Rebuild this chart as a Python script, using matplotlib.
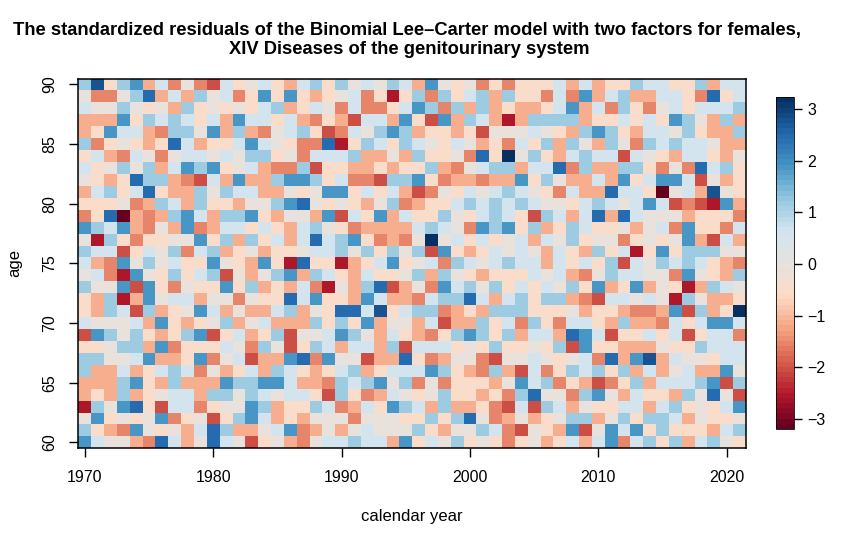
import numpy as np
import matplotlib
matplotlib.use("Agg")
import matplotlib.pyplot as plt
from matplotlib.colors import LinearSegmentedColormap

plt.rcParams['font.family'] = ['Liberation Sans', 'DejaVu Sans']

years = np.arange(1970, 2022)
ages = np.arange(60, 91)

# residual level of each cell
levels = {'D': -3.1, 'X': -2.5, 'R': -2.0, 'r': -1.55, 'p': -1.15, 'q': -0.55,
          'w': 0.0, 'c': 0.55, 'l': 1.15, 'b': 1.85, 'B': 2.5, 'K': 2.75, 'N': 3.15}

# one string per age, from 90 down to 60; letters run 1970..2021
rows = [
    "lKqlbpcrwrRcq wcqpclqlwcwlc pbwqwrqrqqqcp cpqqlccqqlpcc",  # 90
    "wrrwlBpcplwcr qbqbqpqwcrqXq lrlqclplqqrcr bpclppccqrBqc",
    "cwwlwqwplqwqw qclpqcwrcrrqc blrlplpqppqcb pcrlqrwcqcccl",
    "pppbqlclcqcpb ccqcprqpRccpb qRbplcpXpllll pqqcqcqblwplp",
    "pqbccprllwbpl prwclqRrcwlbl pqqpqRwwwcwqp lblqpccwlqppl",
    "lrqwqpqBcpqqc bcwqrrBXqlcql cwqcwpqrcqlpl wplwrlclccwpp",  # 85
    "qcprcwrwccwcw llqwrccclppwp lqqwrBqNwlqpc lccRcwqpccqpw",
    "cqwlwlpcblbqw cprrlRqqppqpq qlprwcllpccBr lppllqrwrBclq",
    "wqpqBllprRcpb pplbblqcrrRll bqrpprppbqlwp pcpbqcbbcRwpq",
    "pclqcBqpplwlc cppwqwbbqcqcp Rrwqcwclcwqrc ppBccqDwcpKwq",
    "qqqwrplcplqqp wwlbBwqwqpwlr pqqclclclcwwq clcwcbcRrRXbp",  # 80
    "rqBDprplbcpll bqpwwpbRcqbpc qqlwqclcqRlcp cBpBcwwwpqqqr",
    "blcbprwpbrpcc qcqpclwqrpppp clcwrblbqlpql cqqwpwcrbqqrc",
    "wXlqrqqwwbqlp lqcpcBclbqrpr wNwcqcqwcpcwl qwwrqwqwbpRcp",
    "lccRqcwlrclpq wpqqwcclwlqlw lRbqpqcwcwpcq plqcXqbqlllww",
    "cprbwlwcqqbwq pbqXBqqXpqcbq wcrlcwclccpcq cqlRcwlclcqpr",  # 75
    "wcrXbwqlqclRw pwlbplcqpcqqw lplwqpqqqcwcp rwlccwwrbwqpl",
    "lwwbRbqrwqqbq lpqpcrXwplBRp wrbclwlqcqcwl qbpqbpwqXplcw",
    "qplXpbwccpwwr wqqBcbqqpbcpp rcllBcpclqllp rRccwcwXlwppq",
    "qplcRlpqwbcpw ppclpwqBBcKqc llrpqplllqqqw pqqprrpbRlpqN",
    "cwwwcpbqpqwlp wcppplqlqbpww pcRpplqcrlqrc cqplpprcqcbbc",  # 70
    "RblwlqpqlbRqc pqlRwwcblwpcq prqlblqlpccpB bcRqqcqcRqccr",
    "qqwllpbrqqqcw rlwRqlcpccplR cccqwqlqqwqlR bqqpppwqqlccc",
    "llwwcbppqbrwc RppbBrbwwRppB qrpwwrRwwcwqw crBpbKpcwwqcc",
    "lppcpqclcrwpq cplcqpqclpqcc cblqprlpRcrql clqlpcpwcppbw",
    "ppplbqplpppbl lbbcpprlclbwl rwrqqqpwbclrq pRrqlpccclbRl",  # 65
    "pqplpqwccpllw lcwccqRlqrpcw qwlqqpqrlBwwr lbwpcqqplwBwR",
    "XlwbBqRccrqww blpqqlcrpcqbl cplppqrRcRlcp wqqccpclqwqcb",
    "wbqwqwbrqwRql bcpqpwwwrwwwq qlqlBwrpwpqwl lpwlqllcpwqqw",
    "lqprbwqwpcBlp pwcbrpwpwcwww lqpwwlcrRwqpb Rwbcbqlqqqpcl",
    "bcwwprBcpwBcw Rqwprwcclccpb qcwlqwqrqwpqc pcbrclqlpclwq",  # 60
]

resid = []
for s in rows[::-1]:
    s = s.replace(" ", "")
    assert len(s) == len(years), s
    resid.append([levels[ch] for ch in s])
resid = np.array(resid)

cols = ['#67001F', '#B2182B', '#D6604D', '#F4A582', '#FDDBC7', '#E6E1DE',
        '#D1E5F0', '#92C5DE', '#4393C3', '#2166AC', '#053061']
cmap = LinearSegmentedColormap.from_list('rdbu_r', cols, N=64)

fig = plt.figure(figsize=(8.67, 5.46), dpi=100)
ax = fig.add_axes([0.0905, 0.1789, 0.7699, 0.6773])
cax = fig.add_axes([0.8951, 0.2143, 0.0204, 0.6075])

xe = np.append(years - 0.5, years[-1] + 0.5)
ye = np.append(ages - 0.5, ages[-1] + 0.5)
mesh = ax.pcolormesh(xe, ye, resid, cmap=cmap, vmin=-3.2, vmax=3.23)
ax.set_xlim(xe[0], xe[-1])
ax.set_ylim(ye[0], ye[-1])

ax.set_xticks(np.arange(1970, 2021, 10))
ax.set_yticks(np.arange(60, 91, 5))
ax.tick_params(direction='out', length=6.5, width=1, labelsize=11.5, pad=9)
for lab in ax.get_yticklabels():
    lab.set_rotation(90)
    lab.set_va('center')
for sp in ax.spines.values():
    sp.set_linewidth(1.1)

cb = fig.colorbar(mesh, cax=cax)
cb.set_ticks([-3, -2, -1, 0, 1, 2, 3])
cb.ax.tick_params(direction='out', length=6, width=1, labelsize=11.5, pad=4)
cb.outline.set_linewidth(0.6)

fig.text(407 / 867, 1 - 31 / 546,
         "The standardized residuals of the Binomial Lee\u2013Carter model with two factors for females,",
         ha='center', va='center', fontsize=13.2, fontweight='bold')
fig.text(409 / 867, 1 - 50 / 546, "XIV Diseases of the genitourinary system",
         ha='center', va='center', fontsize=13.2, fontweight='bold')
fig.text(0.4752, 1 - 517 / 546, "calendar year", ha='center', va='center', fontsize=12)
fig.text(15 / 867, 1 - 263 / 546, "age", ha='center', va='center', rotation=90, fontsize=12)

fig.savefig("out.png", dpi=100)
